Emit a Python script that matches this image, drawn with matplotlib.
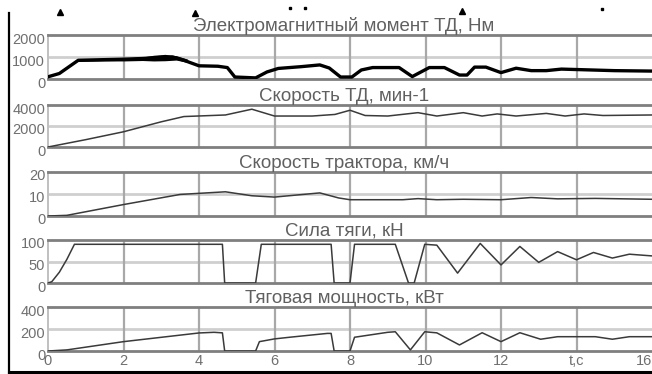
import matplotlib.pyplot as plt
from matplotlib.lines import Line2D
from matplotlib.transforms import ScaledTranslation

plt.rcParams['font.family'] = ['Liberation Sans', 'DejaVu Sans']

# данные
titles = ['Электромагнитный момент ТД, Нм', 'Скорость ТД, мин-1',
          'Скорость трактора, км/ч', 'Сила тяги, кН', 'Тяговая мощность, кВт']
y_max = [2000, 4000, 20, 100, 400]
x_ticks = [0, 2, 4, 6, 8, 10, 12, 14, 16]
x_labels = ['0', '2', '4', '6', '8', '10', '12', 't,c', '16']

torque_t = [0, 0.3, 0.8, 1.5, 2.0, 2.5, 3.0, 3.3, 3.6, 4.0, 4.5, 4.75, 4.95, 5.5, 5.8,
            6.1, 6.7, 7.2, 7.45, 7.75, 8.05, 8.3, 8.6, 9.3, 9.65, 10.1, 10.5, 10.9,
            11.1, 11.3, 11.6, 12.0, 12.4, 12.8, 13.2, 13.6, 14.2, 15.0, 16.0]
torque = [100, 250, 850, 880, 900, 930, 980, 1000, 850, 600, 580, 520, 90, 50, 320,
          480, 560, 640, 500, 90, 90, 410, 520, 520, 110, 520, 520, 180,
          180, 540, 540, 290, 490, 380, 380, 450, 420, 380, 360]
# толщина "шумной" полосы момента
band_t = [0.8, 1.5, 2.0, 2.5, 2.8, 3.1, 3.4, 3.7]
band_lo = [800, 820, 820, 840, 820, 830, 860, 750]
band_hi = [900, 940, 960, 1000, 1080, 1120, 1060, 900]

motor_t = [0, 1, 2, 3, 3.6, 4.7, 5.4, 6.0, 7.0, 7.6, 8.0, 8.4, 9.0, 9.8, 10.3, 11.0,
           11.5, 11.9, 12.4, 13.2, 13.7, 14.2, 14.7, 16]
motor = [0, 700, 1450, 2400, 2900, 3050, 3600, 2950, 2950, 3100, 3500, 3000, 2950,
         3270, 2950, 3270, 2950, 3150, 2950, 3200, 2950, 3150, 3000, 3050]

speed_t = [0, 0.5, 2, 3.5, 4.7, 5.4, 6.0, 7.2, 7.7, 8.0, 9.4, 9.8, 10.3, 11.0, 12.0,
           12.8, 13.5, 14.5, 16]
speed = [0, 0.3, 5.2, 9.8, 11.0, 9.2, 8.6, 10.5, 8.2, 7.4, 7.4, 7.9, 7.4, 7.6, 7.4,
         8.4, 7.8, 8.0, 7.6]

force_t = [0, 0.1, 0.3, 0.5, 0.7, 4.62, 4.68, 5.5, 5.65, 7.5, 7.58, 8.0, 8.12, 9.2,
           9.55, 9.7, 9.98, 10.3, 10.85, 11.45, 12.0, 12.5, 13.0, 13.5, 14.0, 14.45,
           14.95, 15.4, 16]
force = [0, 3, 25, 55, 90, 90, 0, 0, 90, 90, 0, 0, 90, 90,
         0, 0, 90, 88, 23, 92, 42, 85, 48, 73, 54, 71,
         58, 67, 63]

power_t = [0, 0.5, 2, 4, 4.4, 4.62, 4.68, 5.5, 5.6, 6.0, 6.4, 7.4, 7.5, 7.58, 8.0,
           8.12, 9.0, 9.2, 9.6, 9.98, 10.3, 10.9, 11.5, 12.0, 12.5, 13.05, 13.5, 14.5,
           14.95, 15.4, 16]
power = [0, 10, 85, 164, 170, 165, 0, 0, 85, 110, 125, 160, 160, 0, 0,
         125, 170, 175, 10, 175, 165, 55, 166, 85, 166, 107, 130, 130,
         107, 130, 130]

series = [(torque_t, torque), (motor_t, motor), (speed_t, speed),
          (force_t, force), (power_t, power)]

W, H = 652, 374
fig = plt.figure(figsize=(W / 100, H / 100), dpi=100)

# границы панелей в пикселях (верх, низ)
panels = [(35, 79), (105, 147), (172, 216), (240, 283), (307, 351)]
left, right = 48, 652

for i, (top, bot) in enumerate(panels):
    ax = fig.add_axes([left / W, 1 - bot / H, (right - left) / W, (bot - top) / H])
    ax.set_xlim(0, 16)
    ax.set_ylim(0, y_max[i])
    ax.axhline(y_max[i] / 2, color='#cfcfcf', lw=2.0, zorder=1)
    for xv in x_ticks[1:-1]:
        ax.axvline(xv, color='#a8a8a8', lw=1.6, zorder=1)
    t, v = series[i]
    if i == 0:
        ax.plot(t, v, color='black', lw=2.4, zorder=3)
        ax.fill_between(band_t, band_lo, band_hi, color='black', lw=0, zorder=3)
    else:
        ax.plot(t, v, color='#3a3a3a', lw=1.1, zorder=3)
    for s in ['top', 'bottom']:
        ax.spines[s].set_color('#7f7f7f')
        ax.spines[s].set_linewidth(2.0)
    ax.spines['left'].set_color('#c0c0c0')
    ax.spines['left'].set_linewidth(1.4)
    ax.spines['right'].set_visible(False)
    ax.set_yticks([0, y_max[i] / 2, y_max[i]])
    ax.set_yticklabels(['0', f'{y_max[i] // 2}', f'{y_max[i]}'])
    ax.tick_params(axis='both', length=0, labelsize=10.5, colors='#6f6f6f', pad=2)
    # подписи по оси Y чуть ниже линий, как на оригинале
    for lab in ax.get_yticklabels():
        lab.set_transform(lab.get_transform() + ScaledTranslation(0, -0.03, fig.dpi_scale_trans))
    ax.set_xticks(x_ticks)
    if i == len(panels) - 1:
        ax.set_xticklabels(x_labels)
        ax.get_xticklabels()[-1].set_horizontalalignment('right')
    else:
        ax.set_xticklabels([])
    ax.text(0.49, 1.0, titles[i], transform=ax.transAxes, ha='center', va='bottom',
            fontsize=13.5, color='#606060')

# чёрная рамка слева и снизу
fig.add_artist(Line2D([9 / W, 9 / W], [1 - 13 / H, 0], color='black', lw=1.6))
fig.add_artist(Line2D([9 / W, 1], [1 - 372 / H, 1 - 372 / H], color='black', lw=2.2))

# обрывки значков сверху
for mx, my in [(60, 12), (195, 13), (462, 11)]:
    fig.add_artist(Line2D([mx / W], [1 - my / H], marker='^', color='black',
                          markersize=4, lw=0))
for mx, my in [(290, 8), (305, 8), (602, 9)]:
    fig.add_artist(Line2D([mx / W], [1 - my / H], marker='s', color='black',
                          markersize=1.5, lw=0))

plt.savefig('out.png', dpi=100)
